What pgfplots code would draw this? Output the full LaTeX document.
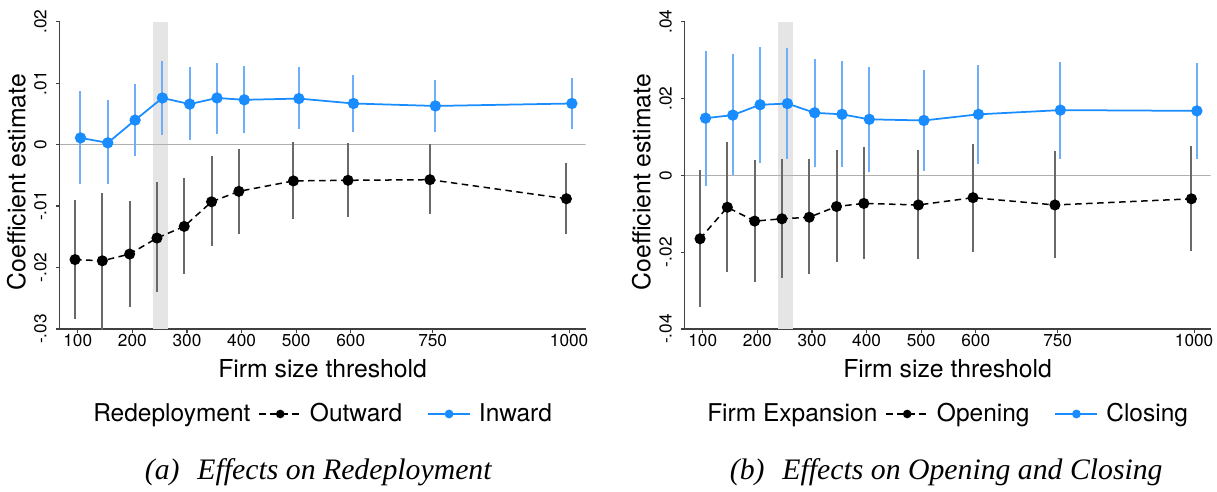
\documentclass[border=0pt]{standalone}
\usepackage{fontspec}
\setmainfont{TeX Gyre Heros}
\newfontfamily\capfont{Liberation Serif}
\usepackage{pgfplots}
\usepackage{pgfplotstable}
\pgfplotsset{compat=1.18}

\definecolor{dotblue}{RGB}{25,140,255}
\definecolor{ciblue}{RGB}{110,175,250}
\definecolor{cigray}{RGB}{105,105,105}
\definecolor{bandgray}{RGB}{229,229,229}
\definecolor{zerogray}{RGB}{175,175,175}

\newcommand{\ticksize}{\fontsize{6.9}{8}\selectfont}
\newcommand{\labsize}{\fontsize{9.9}{12}\selectfont}
\newcommand{\legsize}{\fontsize{9.8}{12}\selectfont}
\newcommand{\capsize}{\fontsize{11.9}{14}\selectfont}

% Panel (a): Redeployment
\pgfplotstableread{
t y lo hi
100 -0.0187 -0.0284 -0.0090
150 -0.0189 -0.0305 -0.0078
200 -0.0178 -0.0264 -0.0091
250 -0.0152 -0.0240 -0.0061
300 -0.0133 -0.0210 -0.0054
350 -0.0093 -0.0165 -0.0019
400 -0.0076 -0.0146 -0.0007
500 -0.0059 -0.0121 0.0004
600 -0.0058 -0.0118 0.0003
750 -0.0057 -0.0113 0.0001
1000 -0.0088 -0.0145 -0.0030
}\tabLout
\pgfplotstableread{
t y lo hi
100 0.0011 -0.0064 0.0088
150 0.0003 -0.0064 0.0072
200 0.0040 -0.0019 0.0099
250 0.0076 0.0015 0.0136
300 0.0066 0.0007 0.0127
350 0.0076 0.0018 0.0133
400 0.0073 0.0019 0.0128
500 0.0075 0.0025 0.0126
600 0.0067 0.0021 0.0114
750 0.0063 0.0020 0.0106
1000 0.0067 0.0026 0.0108
}\tabLin
% Panel (b): Opening and Closing
\pgfplotstableread{
t y lo hi
100 -0.0165 -0.0343 0.0015
150 -0.0083 -0.0252 0.0087
200 -0.0119 -0.0278 0.0039
250 -0.0113 -0.0268 0.0042
300 -0.0109 -0.0258 0.0043
350 -0.0081 -0.0226 0.0065
400 -0.0073 -0.0218 0.0073
500 -0.0077 -0.0218 0.0067
600 -0.0058 -0.0200 0.0083
750 -0.0077 -0.0216 0.0063
1000 -0.0061 -0.0197 0.0077
}\tabRopen
\pgfplotstableread{
t y lo hi
100 0.0149 -0.0027 0.0324
150 0.0157 0.0000 0.0316
200 0.0184 0.0033 0.0335
250 0.0187 0.0042 0.0333
300 0.0163 0.0022 0.0304
350 0.0159 0.0023 0.0297
400 0.0146 0.0010 0.0282
500 0.0143 0.0012 0.0274
600 0.0159 0.0030 0.0287
750 0.0170 0.0043 0.0296
1000 0.0168 0.0043 0.0293
}\tabRclose

\pgfplotsset{
  coefstyle/.style={
    scale only axis, width=210.3pt, height=122.9pt,
    xmin=67, xmax=1030,
    axis x line*=bottom, axis y line*=left,
    tick align=outside, major tick length=1.6pt,
    axis line style={black!75, line width=0.5pt},
    every tick/.append style={black!75, line width=0.5pt},
    scaled y ticks=false, scaled x ticks=false,
    xtick={100,200,300,400,500,600,750,1000},
    xticklabels={100,200,300,400,500,600,750,1000},
    tick label style={font=\ticksize},
    xticklabel style={inner sep=0.4pt, anchor=north},
    yticklabel style={rotate=90, anchor=south, inner sep=3.4pt},
    xlabel={Firm size threshold},
    ylabel={Coefficient estimate},
    label style={font=\labsize},
    xlabel style={at={(axis description cs:0.5,-0.157)}, anchor=base},
    ylabel style={at={(axis description cs:-0.0655,0.478)}, anchor=base},
    legend columns=-1,
    legend style={at={(axis description cs:0.5,-0.2766)}, anchor=center,
      draw=none, fill=none, font=\legsize, column sep=0pt,
      /tikz/column 2/.style={column sep=1.2pt},
      /tikz/column 3/.style={column sep=1.2pt},
      /tikz/column 4/.style={column sep=8pt},
      /tikz/column 5/.style={column sep=1.2pt}},
    legend image code/.code={\draw[mark repeat=2,mark phase=2,#1] plot coordinates {(0pt,0pt) (8.4pt,0pt) (16.8pt,0pt)};},
    legend image post style={mark size=1.4pt},
  },
  blackline/.style={black, line width=0.6pt, dash pattern=on 2.6pt off 1.8pt, mark=*, mark size=1.9pt, mark options={solid, fill=black}},
  blueline/.style={dotblue, line width=0.7pt, mark=*, mark size=1.9pt, mark options={solid, fill=dotblue}},
  cibars/.style={forget plot, draw=none, mark=none, error bars/.cd, y dir=both, y explicit, error mark=none, error bar style={draw=#1, line width=0.8pt, solid}},
}

\begin{document}
\begin{tikzpicture}
% ---------- Panel (a) ----------
\begin{axis}[coefstyle, at={(23.9pt,64.8pt)}, anchor=south west,
  ymin=-0.03, ymax=0.02,
  ytick={-0.03,-0.02,-0.01,0,0.01,0.02},
  yticklabels={-.03,-.02,-.01,0,.01,.02}]
\addplot[forget plot, draw=none, fill=bandgray] coordinates {(237,-0.03) (237,0.02) (265,0.02) (265,-0.03)};
\addplot[forget plot, zerogray, line width=0.5pt] coordinates {(67,0) (1030,0)};
\addplot[cibars=cigray] table[x expr=\thisrow{t}-5, y=y, y error plus expr=\thisrow{hi}-\thisrow{y}, y error minus expr=\thisrow{y}-\thisrow{lo}] {\tabLout};
\addplot[cibars=ciblue] table[x expr=\thisrow{t}+5, y=y, y error plus expr=\thisrow{hi}-\thisrow{y}, y error minus expr=\thisrow{y}-\thisrow{lo}] {\tabLin};
\addlegendimage{empty legend}\addlegendentry{Redeployment}
\addplot[blackline] table[x expr=\thisrow{t}-5, y=y] {\tabLout};
\addlegendentry{Outward}
\addplot[blueline] table[x expr=\thisrow{t}+5, y=y] {\tabLin};
\addlegendentry{Inward}
\end{axis}
% ---------- Panel (b) ----------
\begin{axis}[coefstyle, at={(273.9pt,64.8pt)}, anchor=south west,
  ymin=-0.04, ymax=0.04,
  ytick={-0.04,-0.02,0,0.02,0.04},
  yticklabels={-.04,-.02,0,.02,.04}]
\addplot[forget plot, draw=none, fill=bandgray] coordinates {(237,-0.04) (237,0.04) (265,0.04) (265,-0.04)};
\addplot[forget plot, zerogray, line width=0.5pt] coordinates {(67,0) (1030,0)};
\addplot[cibars=cigray] table[x expr=\thisrow{t}-5, y=y, y error plus expr=\thisrow{hi}-\thisrow{y}, y error minus expr=\thisrow{y}-\thisrow{lo}] {\tabRopen};
\addplot[cibars=ciblue] table[x expr=\thisrow{t}+5, y=y, y error plus expr=\thisrow{hi}-\thisrow{y}, y error minus expr=\thisrow{y}-\thisrow{lo}] {\tabRclose};
\addlegendimage{empty legend}\addlegendentry{Firm Expansion}
\addplot[blackline] table[x expr=\thisrow{t}-5, y=y] {\tabRopen};
\addlegendentry{Opening}
\addplot[blueline] table[x expr=\thisrow{t}+5, y=y] {\tabRclose};
\addlegendentry{Closing}
\end{axis}
% ---------- captions ----------
\node[font=\capsize\capfont\itshape, anchor=base] at (127.3pt,4.6pt) {(a)\hspace{0.6em}Effects on Redeployment};
\node[font=\capsize\capfont\itshape, anchor=base] at (378.5pt,4.6pt) {(b)\hspace{0.6em}Effects on Opening and Closing};
\pgfresetboundingbox
\path[use as bounding box] (0,0) rectangle (486.8pt,196.4pt);
\end{tikzpicture}
\end{document}
